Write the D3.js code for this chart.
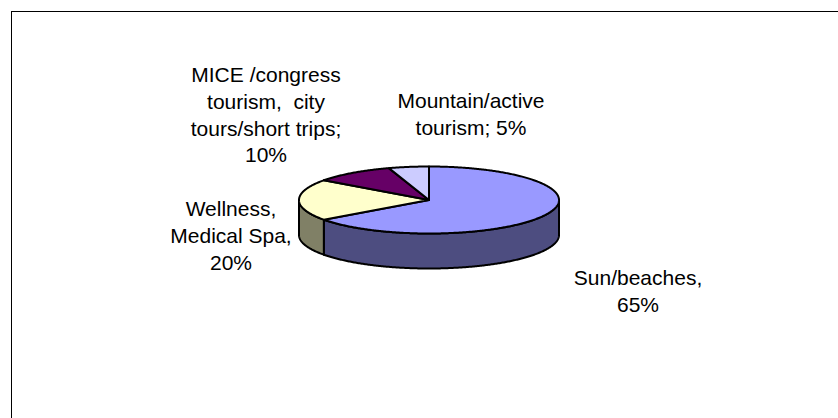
<!DOCTYPE html>
<html>
<head>
<meta charset="utf-8">
<script src="https://cdn.jsdelivr.net/npm/d3@7"></script>
<style>
  html, body { margin: 0; padding: 0; background: #fff; }
  text { font-family: "Liberation Sans", Arial, sans-serif; fill: #000; white-space: pre; }
</style>
</head>
<body>
<svg id="chart" width="838" height="418"></svg>
<script>
// ---- data ----
const categories = ["Sun/beaches", "Wellness, Medical Spa", "MICE /congress tourism, city tours/short trips", "Mountain/active tourism"];
const values = [65, 20, 10, 5];
const labelLines = [
  ["Sun/beaches,", "65%"],
  ["Wellness,", "Medical Spa,", "20%"],
  ["MICE /congress", "tourism,  city", "tours/short trips;", "10%"],
  ["Mountain/active", "tourism; 5%"]
];
const topColors = ["#9999FF", "#FFFFCC", "#660066", "#CCCCFF"];
const sideColors = ["#4D4D80", "#808066", "#330033", "#666680"];

// ---- layout ----
const W = 838, H = 418;
const cx = 429, cy = 200, rx = 130, ry = 33.5, depth = 35;
const fontSize = 21, lineH = 26.8;
// label anchor (center x, first baseline y)
const labelPos = [
  {x: 638, y: 285},
  {x: 231, y: 216},
  {x: 266, y: 82},
  {x: 471, y: 108}
];

const svg = d3.select("#chart");
svg.append("rect").attr("x", 11.5).attr("y", 11.5).attr("width", W + 20).attr("height", H + 20)
  .attr("fill", "#fff").attr("stroke", "#000").attr("stroke-width", 1);

const pie = d3.pie().sort(null).startAngle(0).endAngle(2 * Math.PI);
const arcs = pie(values);

const px = a => cx + rx * Math.sin(a);
const py = (a, dz = 0) => cy - ry * Math.cos(a) + dz;
const line = d3.line();

function samples(a0, a1) {
  const n = Math.max(2, Math.ceil(Math.abs(a1 - a0) / 0.01));
  return d3.range(n + 1).map(i => a0 + (a1 - a0) * i / n);
}

const g = svg.append("g");

// side walls (front half: angles between PI/2 and 3PI/2)
arcs.forEach((d, i) => {
  const a0 = Math.max(d.startAngle, Math.PI / 2);
  const a1 = Math.min(d.endAngle, 3 * Math.PI / 2);
  if (a1 <= a0) return;
  const topPts = samples(a0, a1).map(a => [px(a), py(a)]);
  const botPts = samples(a1, a0).map(a => [px(a), py(a, depth)]);
  g.append("path")
    .attr("d", line(topPts.concat(botPts)) + "Z")
    .attr("fill", sideColors[i])
    .attr("stroke", "#000").attr("stroke-width", 2).attr("stroke-linejoin", "round");
});

// top faces
arcs.forEach((d, i) => {
  const pts = [[cx, cy]].concat(samples(d.startAngle, d.endAngle).map(a => [px(a), py(a)]));
  g.append("path")
    .attr("d", line(pts) + "Z")
    .attr("fill", topColors[i])
    .attr("stroke", "#000").attr("stroke-width", 2).attr("stroke-linejoin", "round");
});

// labels
labelLines.forEach((lines, i) => {
  const t = svg.append("text")
    .attr("text-anchor", "middle")
    .attr("font-size", fontSize);
  lines.forEach((s, j) => {
    t.append("tspan").attr("x", labelPos[i].x).attr("y", labelPos[i].y + j * lineH).text(s);
  });
});
</script>
</body>
</html>
